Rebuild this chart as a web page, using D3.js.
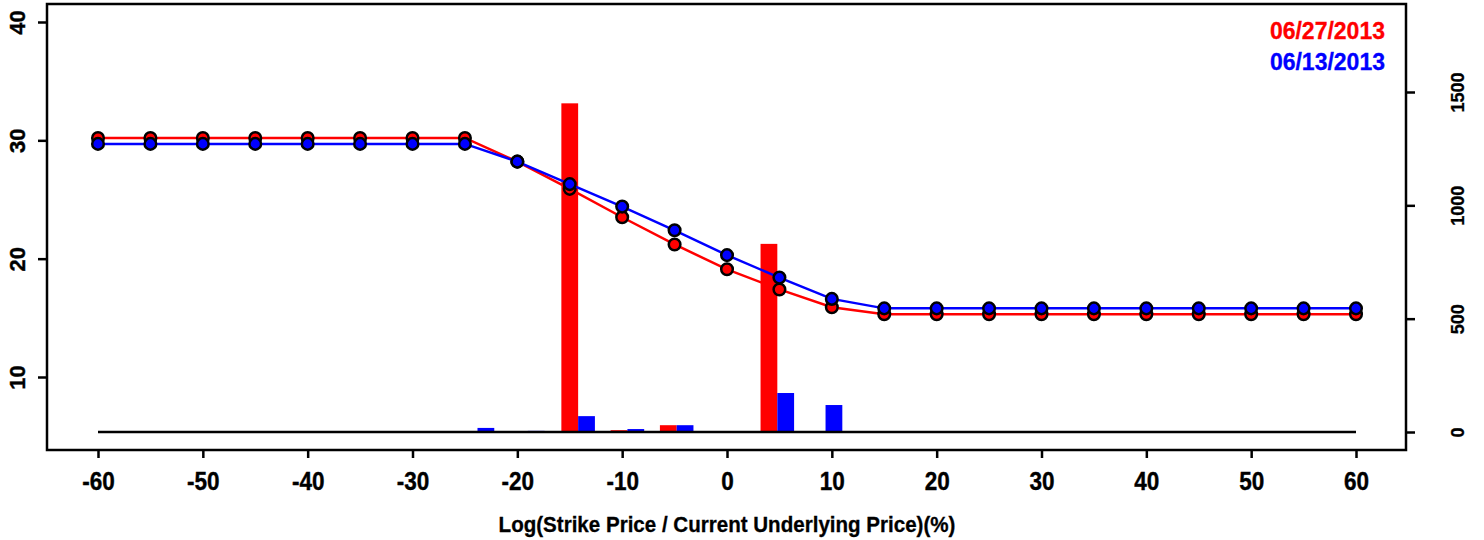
<!DOCTYPE html>
<html>
<head>
<meta charset="utf-8">
<script src="https://cdn.jsdelivr.net/npm/d3@7"></script>
<style>
  body { margin: 0; background: white; }
  svg { display: block; font-family: "Liberation Sans", Arial, sans-serif; }
</style>
</head>
<body>
<svg id="chart" width="1484" height="540"></svg>
<script>
// strike moneyness grid for the two curves
const moneyness = [-60, -55, -50, -45, -40, -35, -30, -25, -20, -15, -10, -5, 0,
  5, 10, 15, 20, 25, 30, 35, 40, 45, 50, 55, 60];
const volRed = [30.2, 30.2, 30.2, 30.2, 30.2, 30.2, 30.2, 30.2, 28.2, 25.9, 23.5, 21.2, 19.1,
  17.4, 15.9, 15.3, 15.3, 15.3, 15.3, 15.3, 15.3, 15.3, 15.3, 15.3, 15.3];
const volBlue = [29.7, 29.7, 29.7, 29.7, 29.7, 29.7, 29.7, 29.7, 28.2, 26.3, 24.4, 22.4, 20.3,
  18.4, 16.6, 15.8, 15.8, 15.8, 15.8, 15.8, 15.8, 15.8, 15.8, 15.8, 15.8];

// bars (right axis)
const barPos = [-23.8, -19, -14.2, -9.5, -4.8, 4.8, 9.4];
const barRed = [0, 0, 1450, 8, 30, 830, 0];
const barBlue = [18, 5, 70, 13, 30, 172, 119];

const xTicks = [-60, -50, -40, -30, -20, -10, 0, 10, 20, 30, 40, 50, 60];
const leftTicks = [10, 20, 30, 40];
const rightTicks = [0, 500, 1000, 1500];
const legendLabels = ["06/27/2013", "06/13/2013"];
const colors = ["#ff0000", "#0000ff"];

const box = { left: 47, right: 1406, top: 4, bottom: 450 };
const barW = 1.6;

const svg = d3.select("#chart");
svg.append("rect").attr("width", 1484).attr("height", 540).attr("fill", "white");

const x = d3.scaleLinear().domain([-60, 60]).range([98, 1356]);
const yL = d3.scaleLinear().domain([10, 40]).range([377, 22]);
const yR = d3.scaleLinear().domain([0, 1500]).range([432, 92]);

// bars
const bars = svg.append("g");
bars.selectAll(".red").data(barPos).join("rect")
  .attr("x", d => x(d - barW))
  .attr("width", d => x(d) - x(d - barW))
  .attr("y", (d, i) => yR(barRed[i]))
  .attr("height", (d, i) => yR(0) - yR(barRed[i]))
  .attr("fill", colors[0]);
bars.selectAll(".blue").data(barPos).join("rect")
  .attr("x", d => x(d))
  .attr("width", d => x(d + barW) - x(d))
  .attr("y", (d, i) => yR(barBlue[i]))
  .attr("height", (d, i) => yR(0) - yR(barBlue[i]))
  .attr("fill", colors[1]);

// zero line of the bar axis
svg.append("line")
  .attr("x1", x(-60)).attr("x2", x(60))
  .attr("y1", yR(0)).attr("y2", yR(0))
  .attr("stroke", "black").attr("stroke-width", 2.5);

// curves + points
const line = d3.line()
  .x((d, i) => x(moneyness[i]))
  .y(d => yL(d));

[volRed, volBlue].forEach((vals, k) => {
  svg.append("path")
    .attr("d", line(vals))
    .attr("fill", "none")
    .attr("stroke", colors[k])
    .attr("stroke-width", 2.5);
  svg.append("g").selectAll("circle").data(vals).join("circle")
    .attr("cx", (d, i) => x(moneyness[i]))
    .attr("cy", d => yL(d))
    .attr("r", 5.8)
    .attr("fill", colors[k])
    .attr("stroke", "black")
    .attr("stroke-width", 2.5);
});

// box
svg.append("rect")
  .attr("x", box.left).attr("y", box.top)
  .attr("width", box.right - box.left).attr("height", box.bottom - box.top)
  .attr("fill", "none").attr("stroke", "black").attr("stroke-width", 2.5);

// axes
const xAxis = d3.axisBottom(x).tickValues(xTicks).tickSize(8).tickPadding(0).tickFormat(d3.format("d"));
const gx = svg.append("g").attr("transform", `translate(0,${box.bottom})`).call(xAxis);
gx.select(".domain").remove();
gx.selectAll(".tick line").attr("stroke-width", 2.5);
gx.selectAll(".tick text")
  .attr("y", 0).attr("dy", null)
  .attr("transform", "translate(0,40) scale(0.9,1)")
  .style("font-size", "25px").style("font-weight", "bold").attr("fill", "black")
  .attr("stroke", "black").attr("stroke-width", 0.4)
  .text(d => d < 0 ? "-" + Math.abs(d) : d);

const leftAxis = d3.axisLeft(yL).tickValues(leftTicks).tickSize(9).tickFormat(d3.format("d"));
const gl = svg.append("g").attr("transform", `translate(${box.left},0)`).call(leftAxis);
gl.select(".domain").remove();
gl.selectAll(".tick line").attr("stroke-width", 2.5);
gl.selectAll(".tick text")
  .attr("x", 0).attr("dy", null).attr("text-anchor", "middle")
  .attr("transform", "translate(-22,0) rotate(-90)")
  .style("font-size", "22px").style("font-weight", "bold").attr("fill", "black")
  .attr("stroke", "black").attr("stroke-width", 0.4);

const rightAxis = d3.axisRight(yR).tickValues(rightTicks).tickSize(9).tickFormat(d3.format("d"));
const gr = svg.append("g").attr("transform", `translate(${box.right},0)`).call(rightAxis);
gr.select(".domain").remove();
gr.selectAll(".tick line").attr("stroke-width", 2.5);
gr.selectAll(".tick text")
  .attr("x", 0).attr("dy", null).attr("text-anchor", "middle")
  .attr("transform", "translate(58,0) rotate(-90)")
  .style("font-size", "18px").style("font-weight", "bold").attr("fill", "black")
  .attr("stroke", "black").attr("stroke-width", 0.3);

// x title
svg.append("text")
  .attr("transform", "translate(727,532) scale(0.935,1)")
  .attr("text-anchor", "middle")
  .style("font-size", "22px").style("font-weight", "bold")
  .attr("stroke", "black").attr("stroke-width", 0.3)
  .text("Log(Strike Price / Current Underlying Price)(%)");

// legend
svg.append("g").selectAll("text").data(legendLabels).join("text")
  .attr("x", 1385).attr("y", (d, i) => 39 + i * 31)
  .attr("text-anchor", "end")
  .style("font-size", "23px").style("font-weight", "bold")
  .attr("fill", (d, i) => colors[i])
  .attr("stroke", (d, i) => colors[i]).attr("stroke-width", 0.3)
  .text(d => d);
</script>
</body>
</html>
